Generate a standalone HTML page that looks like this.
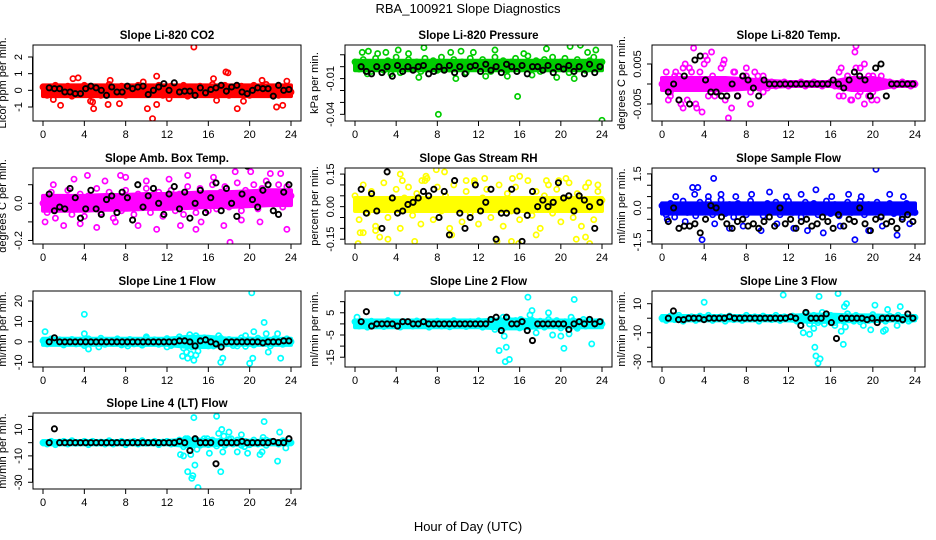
<!DOCTYPE html>
<html><head><meta charset="utf-8"><style>
html,body{margin:0;padding:0;background:#fff}
svg{display:block;font-family:"Liberation Sans",Arial,sans-serif}
</style></head><body>
<svg id="chart" width="936" height="540" viewBox="0 0 936 540" xmlns="http://www.w3.org/2000/svg">
<rect x="0" y="0" width="936" height="540" fill="#fff"/>
<text x="468" y="13" text-anchor="middle" font-size="13">RBA_100921  Slope Diagnostics</text>
<text x="468" y="531" text-anchor="middle" font-size="13">Hour of Day (UTC)</text>
</svg>
<script>
const xTicks = [0,4,8,12,16,20,24];

// dense-band envelopes (every 2 hours, 0..24)
const co2BandLo = [-0.35,-0.35,-0.35,-0.35,-0.35,-0.35,-0.35,-0.35,-0.35,-0.35,-0.35,-0.35,-0.35];
const co2BandHi = [0.3,0.3,0.3,0.3,0.3,0.3,0.3,0.3,0.3,0.3,0.3,0.3,0.3];
const presBandLo = [-0.003,-0.003,-0.003,-0.003,-0.003,-0.003,-0.003,-0.003,-0.003,-0.003,-0.003,-0.003,-0.003];
const presBandHi = [0.005,0.005,0.005,0.005,0.005,0.005,0.005,0.005,0.005,0.005,0.005,0.005,0.005];
const tempBandLo = [-0.0015,-0.0015,-0.0015,-0.0015,-0.0012,-0.0008,-0.0005,-0.0005,-0.0005,-0.0015,-0.0015,-0.0005,-0.0005];
const tempBandHi = [0.0015,0.0015,0.0015,0.0015,0.0012,0.0008,0.0005,0.0005,0.0005,0.0015,0.0015,0.0005,0.0005];
const ambBandLo = [-0.04,-0.04,-0.04,-0.035,-0.035,-0.03,-0.03,-0.025,-0.02,-0.02,-0.015,-0.01,-0.01];
const ambBandHi = [0.04,0.04,0.04,0.045,0.045,0.05,0.05,0.055,0.06,0.06,0.065,0.07,0.07];
const rhBandLo = [-0.02,-0.02,-0.02,-0.02,-0.02,-0.02,-0.02,-0.02,-0.02,-0.02,-0.02,-0.02,-0.02];
const rhBandHi = [0.04,0.04,0.04,0.04,0.04,0.04,0.04,0.04,0.04,0.04,0.04,0.04,0.04];
const flowBandLo = [-0.25,-0.25,-0.25,-0.25,-0.25,-0.25,-0.25,-0.25,-0.25,-0.25,-0.25,-0.25,-0.25];
const flowBandHi = [0.2,0.2,0.2,0.2,0.2,0.2,0.2,0.2,0.2,0.2,0.2,0.2,0.2];
const l1BandLo = [-1.5,-1.5,-1.5,-1.5,-1.5,-1.5,-1.5,-2.5,-2.5,-1.5,-1.5,-1.5,-1.5];
const l1BandHi = [1.5,1.5,1.5,1.5,1.5,1.5,1.5,2.5,2.5,1.5,1.5,1.5,1.5];
const l2BandLo = [-1.5,-1.5,-1.5,-1.5,-1.5,-1.5,-1.5,-2,-2,-1.5,-1.5,-1.5,-1.5];
const l2BandHi = [1.5,1.5,1.5,1.5,1.5,1.5,1.5,2,2,1.5,1.5,1.5,1.5];
const l3BandLo = [-1.5,-1.5,-1.5,-1.5,-1.5,-1.5,-1.5,-2.5,-2.5,-2,-2,-1.5,-1.5];
const l3BandHi = [1.5,1.5,1.5,1.5,1.5,1.5,1.5,2.5,2.5,2,2,1.5,1.5];
const l4BandLo = [-1.3,-1.3,-1.3,-1.3,-1.3,-1.3,-1.3,-2.5,-2,-1.5,-1.5,-1.3,-1.3];
const l4BandHi = [1.3,1.3,1.3,1.3,1.3,1.3,1.3,2.5,2,1.5,1.5,1.3,1.3];

const co2Main = [0.2,-0.3,0.1,0.3,-0.2,0.0,0.25,-0.35,0.15,-0.1,0.3,-0.25,0.05,0.2,-0.3,0.1,0.35,-0.15,0.0,0.25,-0.3,0.15,-0.2,0.3,0.05,-0.25,0.2,-0.1,0.3,-0.3,0.1,0.25,-0.2,0.0,0.3,-0.35,0.15,-0.05,0.25,-0.25,0.1,0.35,-0.2,0.05,0.3,-0.3,0.2,-0.1,0.25,0.0,-0.3,0.3,0.1,-0.2,0.35,-0.15,0.2,-0.3,0.05,0.25,-0.1];
const co2Out = [[14.6,2.6],[10.6,-1.7],[10.1,-1.1],[4.9,-1.1],[1.7,-0.9],[6.3,-0.85],[18.8,-1.1],[22.6,-1],[23.2,-0.9],[17.7,1.1],[17.9,1.05],[11,0.85],[2.9,0.7],[3.4,0.75],[6.5,0.6],[16.5,0.7],[23.6,0.55],[7.4,-0.8],[4.6,-0.65],[4.8,-0.7],[11,-0.85],[19.4,-0.65],[16.8,-0.6],[9.7,0.5],[1.0,-0.55],[12.2,-0.5],[21.2,0.6]];
const co2Black = [0.15,0.1,0.1,-0.1,-0.1,-0.2,-0.2,0.1,0.25,0.15,0.0,-0.3,0.2,-0.1,-0.1,0.25,0.1,0.2,0.25,-0.25,0.0,0.2,0.4,0.0,0.45,-0.1,-0.05,-0.05,-0.3,0.15,-0.15,0.05,0.15,0.3,-0.05,0.2,0.3,-0.1,-0.2,0.0,0.15,0.1,0.1,-0.35,0.3,0.0,0.05];

const presMain = [0.004,-0.002,0.006,0.001,-0.004,0.007,0.002,-0.003,0.005,0.0,0.008,-0.005,0.003,0.006,-0.001,0.004,-0.004,0.007,0.001,0.005,-0.003,0.008,0.002,-0.002,0.006,0.0,0.004,-0.005,0.007,0.003,-0.001,0.006,0.002,-0.004,0.008,0.001,0.005,-0.003,0.004,0.007,-0.002,0.003,0.009,0.0,0.005,-0.004,0.006,0.002,0.008,-0.001,0.004,0.007,-0.005,0.003,0.006,0.001,-0.003,0.005,0.008,0.0,0.004];
const presOut = [[0.7,0.012],[1.3,0.013],[2.2,0.011],[3.0,0.012],[4.2,0.014],[5.2,0.011],[6.7,0.016],[8.1,-0.04],[9.3,0.012],[10.3,0.013],[11.5,0.012],[12.7,-0.008],[13.6,0.014],[15.8,-0.025],[16.4,0.011],[18.6,0.015],[19.6,-0.009],[20.9,0.017],[21.9,0.018],[22.6,0.012],[23.4,0.014],[24,-0.045],[3.5,-0.006],[6.2,-0.009],[9.8,-0.01],[1.2,-0.006],[17.2,-0.007],[14.8,-0.008],[21.3,-0.01]];
const presBlack = [0.0,-0.004,-0.006,0.0,-0.005,0.0,-0.008,0.001,-0.004,0.0,-0.003,0.0,0.001,-0.006,-0.004,0.0,-0.003,0.001,-0.005,0.0,-0.006,0.0,0.001,-0.004,0.002,-0.003,0.0,-0.005,0.002,0.0,-0.004,0.001,-0.006,0.0,0.0,-0.003,0.001,-0.005,0.0,-0.002,0.001,-0.004,0.0,-0.006,0.002,-0.005,0.0];

const tempMain = [0.0,0.003,-0.002,0.002,-0.004,0.004,-0.001,0.003,-0.005,0.001,0.005,-0.003,0.002,-0.002,0.004,-0.004,0.001,0.003,-0.003,0.0,0.002,-0.002,0.003,-0.001,0.002,-0.001,0.0005,-0.0005,0.0,0.0005,-0.0005,0.0,0.0,0.0005,-0.0005,0.0,0.0005,0.0,-0.0005,0.0,0.0005,-0.0005,0.003,-0.003,0.002,-0.004,0.004,-0.002,0.005,-0.003,0.002,-0.001,0.002,0.0,0.0005,-0.0005,0.0,0.0005,0.0,-0.0005,0.0];
const tempOut = [[1.3,0.003],[0.8,-0.003],[1.8,-0.005],[2.6,0.004],[3.0,0.009],[3.3,-0.006],[3.8,-0.007],[4.1,0.007],[4.3,0.006],[4.7,0.008],[5.3,-0.002],[5.8,0.005],[6.3,-0.0085],[6.6,-0.006],[5.9,0.006],[7.2,-0.003],[8.0,0.004],[8.4,-0.005],[9.1,0.002],[9.6,-0.002],[2.2,0.005],[1.6,0.002],[0.6,-0.004],[2.0,-0.006],[2.4,-0.004],[17.0,0.004],[17.5,0.001],[17.9,-0.004],[18.3,0.008],[18.4,0.0095],[18.8,0.004],[19.2,-0.005],[19.6,0.002],[20.0,-0.002],[20.6,0.001],[20.4,-0.004],[16.8,-0.003],[18.6,-0.003],[19.9,-0.004],[7.7,0.002],[6.9,0.003],[3.6,0.003],[5.0,-0.003]];
const tempBlack = [-0.002,0.0,-0.004,0.002,-0.005,0.006,0.007,0.001,-0.002,-0.002,-0.003,-0.003,0.0,-0.003,0.002,0.001,-0.001,-0.003,0.001,0,0,0,0,0,0,0,0,0,0,0,0,0.001,0,-0.001,0.001,0.003,0.002,0.001,-0.003,0.004,0.005,-0.003,0,0,0,0,0];

const ambMain = [0.0,-0.05,0.06,-0.08,0.03,-0.03,0.07,-0.06,0.02,0.05,-0.07,0.04,-0.02,0.08,-0.05,0.01,0.06,-0.08,0.03,-0.04,0.07,0.0,-0.06,0.05,-0.02,0.08,-0.05,0.03,0.06,-0.07,0.02,0.07,-0.04,0.05,-0.06,0.09,0.0,-0.05,0.08,0.02,-0.04,0.1,-0.03,0.06,0.09,-0.02,0.05,0.11,-0.04,0.07,0.02,0.1,-0.03,0.08,0.12,0.0,0.06,0.1,-0.02,0.09,0.04];
const ambOut = [[0.2,-0.1],[1.0,0.1],[2.0,-0.12],[3.0,0.13],[3.6,-0.11],[4.3,0.15],[5.2,-0.13],[6.0,0.12],[7.0,-0.1],[8.0,0.14],[9.2,-0.12],[10.0,0.12],[11.0,-0.14],[12.2,0.13],[13.3,-0.12],[14.0,0.15],[15.3,-0.1],[16.5,0.14],[17.5,-0.12],[18.1,-0.21],[18.6,0.17],[19.2,-0.09],[20.1,0.17],[21.0,-0.1],[22.0,0.16],[23.0,0.16],[23.6,-0.14],[14.8,-0.14],[7.5,0.15]];
const ambBlack = [0.05,-0.04,-0.02,-0.03,0.08,0.03,-0.08,-0.03,0.07,-0.03,-0.06,0.02,0.04,-0.05,0.06,0.03,-0.09,0.1,-0.02,0.04,0.08,0.0,-0.06,0.05,0.09,-0.03,0.06,-0.08,0.0,0.07,-0.05,0.03,0.11,-0.04,0.08,0.0,-0.07,0.05,0.2,0.02,-0.02,0.07,0.1,-0.04,-0.06,0.06,0.1];

const rhMain = [0.05,-0.06,0.1,-0.03,0.07,-0.09,0.03,0.11,-0.05,0.0,0.08,-0.1,0.04,0.09,-0.04,0.06,-0.08,0.12,0.01,-0.06,0.09,-0.02,0.05,-0.1,0.1,0.02,-0.07,0.07,-0.03,0.11,-0.08,0.04,0.08,-0.05,0.01,0.1,-0.09,0.06,-0.02,0.09,-0.06,0.03,0.12,-0.04,0.07,-0.1,0.05,0.1,-0.03,0.08,-0.07,0.02,0.11,-0.05,0.06,-0.09,0.09,0.0,-0.06,0.07,0.03];
const rhOut = [[0.3,-0.17],[0.5,-0.12],[0.8,-0.12],[2.4,-0.14],[3.2,-0.15],[4.4,0.15],[4.6,0.12],[5.8,-0.16],[6.5,0.12],[7.0,0.13],[7.9,0.17],[8.7,0.16],[9.4,-0.13],[10.8,0.12],[11.6,0.12],[12.6,0.13],[13.8,-0.16],[15.2,-0.16],[15.3,0.13],[15.9,-0.17],[16.0,0.14],[17.6,-0.13],[18.6,0.12],[19.8,0.12],[20.5,0.13],[21.5,-0.15],[22.4,-0.14],[22.7,0.11],[22.8,-0.17],[23.6,0.1],[6.9,0.14],[2.0,-0.11]];
const rhBlack = [0.08,-0.03,0.06,-0.02,-0.1,0.16,0.04,-0.03,-0.02,0.01,0.02,0.04,0.07,0.05,0.08,-0.05,0.07,-0.13,0.12,-0.03,-0.1,-0.05,0.1,-0.02,0.02,0.08,-0.15,-0.03,-0.03,0.08,-0.02,-0.16,-0.04,0.07,0.0,0.03,0.0,0.02,0.11,0.04,0.05,-0.02,0.05,0.03,0.0,-0.1,0.02];

const flowMain = [0.1,-0.3,0.2,-0.4,0.0,0.3,-0.2,0.1,-0.35,0.25,-0.1,0.3,-0.3,0.05,0.35,-0.25,0.15,-0.4,0.2,0.0,-0.3,0.3,-0.15,0.1,-0.35,0.2,-0.05,0.25,-0.3,0.1,0.3,-0.2,0.0,-0.4,0.25,-0.1,0.2,-0.3,0.05,0.3,-0.25,0.15,-0.35,0.1,0.25,-0.2,0.0,0.3,-0.3,0.15,-0.1,0.25,-0.35,0.05,0.2,-0.25,0.1,-0.4,0.2,0.0,-0.2];
const flowOut = [[0.5,-0.5],[1.3,0.5],[2.2,-0.6],[3.1,0.6],[3.8,-1.4],[4.4,0.5],[5.0,-0.7],[5.6,0.6],[6.4,-0.9],[7.0,0.5],[7.7,-0.8],[8.5,0.6],[9.4,-1.0],[10.2,0.7],[10.9,-0.7],[11.8,0.5],[12.5,-0.9],[13.2,0.6],[13.8,-1.0],[14.6,0.8],[15.3,-1.1],[16.1,0.5],[16.9,-0.8],[17.7,0.6],[18.3,-1.4],[18.9,0.5],[19.6,-1.0],[20.3,1.7],[20.9,-0.8],[21.6,0.6],[22.3,-1.2],[22.9,0.5],[23.5,-0.7],[4.9,1.3],[2.9,0.9],[3.4,0.9]];
const flowBlack = [-0.6,0.0,-0.9,-0.8,-0.8,-0.7,-1.1,-0.5,0.1,0.0,-0.4,-0.7,-0.9,-0.6,-0.5,-0.8,-0.7,-0.9,-0.6,-0.4,-0.8,0.0,-0.7,-0.5,-0.9,-0.6,-0.5,-0.8,-0.7,-0.4,-0.6,-0.9,-0.3,-0.8,-0.5,-0.6,0.0,-0.7,-1.0,-0.5,-0.4,-0.7,-0.6,-0.9,-0.5,-0.3,-0.6];

const l1Main = [0.5,-1,1.5,-0.5,1,-1.5,0.5,1.2,-1,0.8,-1.8,1.5,-0.5,0,1.8,-1.2,0.6,-0.8,1.5,-1.5,0.3,1.2,-1,0.7,-1.6,1.8,-0.4,1,-1.2,0.5,1.6,-1.8,0.2,2.5,-3,1.5,-2.5,3,-1,2,-2,1,-1.5,1.8,-0.6,1.2,-1.8,0.4,2,-2.2,1,-1.5,1.8,-0.5,1.2,-2,1.5,0.5,-1.2,1.5,0];
const l1Out = [[0.2,5],[4.0,13.5],[4.0,4],[4.4,-3.5],[10.0,2.5],[12.0,-2.5],[13.5,-7],[13.9,-5],[14.0,-8],[14.3,-6],[14.6,-9],[14.8,-6.5],[15.0,-4.5],[14.2,3.5],[16.5,-2],[17.0,3],[17.2,-10],[17.4,-8],[18.8,-2],[20.0,-10.5],[20.3,-8],[20.4,5],[20.2,24],[21.4,9.5],[21.6,4],[22.7,4],[23.0,-8],[5.4,-2.5],[8.2,-2],[19.6,3],[21.8,-5]];
const l1Black = [0,2,0,0,0,0,0,0,0,0,0,0,0,0,0,0,0,0,0,0,0,0,0,0,0,0.5,0.5,0,-2,0.5,1,0,-1,-2.5,0,0,0,0,0,0,0,-0.5,0,0,0,0.5,0.5];

const l2Main = [1,-1,0.5,-1.5,1.2,-0.5,0.8,-1.2,1.5,-0.8,0.3,-1.4,1,0,-1,1.3,-0.6,0.9,-1.5,0.5,1.2,-1,0.6,-1.3,1.5,-0.4,0.8,-1.2,1,-0.8,1.4,-1.5,0.5,2,-2.5,1.5,-2,2.5,-1,1.5,-1.8,0.8,-1.2,1.6,-0.5,1.2,-1.5,2,-1,1.5,-1.8,1,-0.8,1.5,-1.3,0.6,-1,1.2,-0.5,1,0];
const l2Out = [[0.2,3],[4.1,14],[13.6,-1],[14.0,-12],[14.5,-5.5],[14.6,-17],[14.7,-10.5],[15.0,-16],[14.4,3],[16.8,12],[17.0,4],[17.2,6],[17.6,-4],[18.8,5],[19.2,-5],[20.0,-5.5],[20.3,-11],[20.8,-4.5],[21.3,11],[21.0,3],[21.6,-2],[23.0,-9],[16.1,2],[22.2,2]];
const l2Black = [1,5.5,-1,0,0,0,0,-1,1,1,0,0,1,0,0,0,0,0,0,0,0,0,0,0,0,2,3,-3,3,0,0,1,-3,-7.5,0,0,0,0,0,0,-2.5,0,1,0,2,0,1];

const l3Main = [0,-1.5,1.5,-1,2,-2,0.5,1,-1.5,1.5,-0.5,2,-1.5,0.5,1,-2,1.5,-1,0.5,-1.5,2,-0.5,1,-2,1.5,0,-1,2,-1.5,1,-0.5,1.5,-2,0.5,3,-4,2,-3,4,-1,2,-3,1,-2,3,-1,2,-2.5,1,-1.5,2.5,-1,0,-2,1.5,-0.5,2,-1.5,1,-1,0.5];
const l3Out = [[4.0,11],[11.5,16],[13.4,-10],[14,-11],[14.4,-7],[14.5,-20],[14.6,-26],[14.8,-31],[15.0,-28],[14.9,15],[15.4,-4],[16.4,-5],[16.7,17],[17,-9],[17.2,-18],[17.3,8],[17.5,10],[17.4,-6],[18.2,-2],[19.1,-5],[19.8,-8],[20.2,9],[20.4,-3],[21.2,-8],[21.0,-9],[21.4,6],[22.3,-5],[22.6,8],[23.4,-2],[17.6,3]];
const l3Black = [0,5,-1,-1,0,0,0,-1,0,0,0,0,1,0,0,0,0,0,0,0,0,0,0,0,1,0,-5,4,0,0,0,3,-3,-14,0,0,0,0,0,-1,0,-3,0,0,0,0,-1,3,0];

const l4Main = [0,-1,1,-1.5,0.5,1,-1,1.5,-0.5,0,1,-1.5,1,-0.5,0.5,-1,1.5,-1,0,1,-1.5,0.5,1,-1,1.5,-0.5,0,1,-1.5,0.5,1,-1,0.5,2,-3,3,-2,2.5,-2,3,-1.5,2,-2.5,1.5,-2,2.5,-1,2,-2,1,-1.5,2,-1,1.5,-2,1,0.5,-1,1.5,0,0];
const l4Out = [[13.3,-9],[13.6,-10],[13.8,3],[14.0,-22],[14.3,-9],[14.4,-27],[14.5,-25],[14.6,19],[14.7,-17],[14.9,-5],[15.0,-34],[15.2,1],[16.1,-8],[16.3,1],[16.8,20],[17.0,7],[17.2,-22],[17.3,10],[17.5,5],[17.4,-7],[18.0,8],[18.2,3],[18.8,-7],[19.2,6],[19.5,-3],[19.8,-8],[21.0,-9],[21.2,-7],[21.3,4],[21.4,16],[21.6,2],[22.7,-14],[22.9,8],[23.5,-4],[20.3,0],[15.9,3]];
const l4Black = [0,10.5,0,0,0,0,0,0,0,0,0,0,0,0,0,0,0,0,0,0,0,0,0,0,0,1,0,-6,3,0,0,0,-16,0,0,0,0,1,0,0,0,0,0,1,0,0,3];

const panelTitles = ["Slope Li-820 CO2","Slope Li-820 Pressure","Slope Li-820 Temp.","Slope Amb. Box Temp.","Slope Gas Stream RH","Slope Sample Flow","Slope Line 1 Flow","Slope Line 2 Flow","Slope Line 3 Flow","Slope Line 4 (LT) Flow"];
const yLabels = ["Licor ppm per min.","kPa per min.","degrees C per min.","degrees C per min.","percent per min.","ml/min per min.","ml/min per min.","ml/min per min.","ml/min per min.","ml/min per min."];
const yTicks = [[-1,0,1,2],[0.01,0,-0.01,-0.02,-0.03,-0.04],[-0.005,0,0.005],[0.1,0,-0.1,-0.2],[-0.15,-0.1,-0.05,0,0.05,0.1,0.15],[-1.5,-1,-0.5,0,0.5,1,1.5],[-10,0,10,20],[10,5,0,-5,-10,-15],[10,0,-10,-20,-30],[20,10,0,-10,-20,-30]];
const yTickLabels = [["-1","0","1","2"],["","","-0.01","","","-0.04"],["-0.005","","0.005"],["","0.0","","-0.2"],["-0.15","","","0.00","","","0.15"],["-1.5","","","0.0","","","1.5"],["-10","0","10","20"],["","5","","-5","","-15"],["10","","-10","","-30"],["","10","","-10","","-30"]];
const yRanges = [[-1.84,2.72],[-0.0456,0.0182],[-0.00925,0.00975],[-0.219,0.19],[-0.172,0.178],[-1.59,1.76],[-12.3,24.9],[-19.4,14.8],[-33.6,18.75],[-35.1,22.5]];
const bandLows = [co2BandLo,presBandLo,tempBandLo,ambBandLo,rhBandLo,flowBandLo,l1BandLo,l2BandLo,l3BandLo,l4BandLo];
const bandHighs = [co2BandHi,presBandHi,tempBandHi,ambBandHi,rhBandHi,flowBandHi,l1BandHi,l2BandHi,l3BandHi,l4BandHi];
const mainSeries = [co2Main,presMain,tempMain,ambMain,rhMain,flowMain,l1Main,l2Main,l3Main,l4Main];
const outlierSeries = [co2Out,presOut,tempOut,ambOut,rhOut,flowOut,l1Out,l2Out,l3Out,l4Out];
const blackSeries = [co2Black,presBlack,tempBlack,ambBlack,rhBlack,flowBlack,l1Black,l2Black,l3Black,l4Black];
const colors = ["#ff0000","#00cc00","#ff00ff","#ff00ff","#ffff00","#0000ff","#00ffff","#00ffff","#00ffff","#00ffff"];

const NS = "http://www.w3.org/2000/svg";
const svg = document.getElementById("chart");
const colL = [33, 345, 652], colR = [301, 612, 925];
const rowT = [45, 168, 291, 413], boxH = 76;
function mk(tag, attrs, parent){ const e=document.createElementNS(NS,tag); for(const k in attrs) e.setAttribute(k,attrs[k]); (parent||svg).appendChild(e); return e; }

panelTitles.forEach((title, p) => {
  const c = p % 3, r = Math.floor(p / 3);
  const L = colL[c], R = colR[c], T = rowT[r], B = T + boxH;
  const xs = h => L + 10 + (h / 24) * (R - L - 20);
  const [ymin, ymax] = yRanges[p];
  const ys = v => B - (v - ymin) / (ymax - ymin) * boxH;
  const g = mk("g", {});
  
  
  const t = mk("text", {x:(L+R)/2, y:T-6, "text-anchor":"middle", "font-size":"11.5", "font-weight":"bold"}, g);
  t.textContent = title;
  
  
  const yl = mk("text", {transform:`translate(${L-27},${T+boxH/2}) rotate(-90)`, "text-anchor":"middle", "font-size":"11"}, g);
  yl.textContent = yLabels[p];
  
  
  xTicks.forEach(h => {
    const x = xs(h);
    mk("line", {x1:x, x2:x, y1:B, y2:B+5, stroke:"#000"}, g);
    const tl = mk("text", {x:x, y:B+17, "text-anchor":"middle", "font-size":"11"}, g);
    tl.textContent = String(h);
    
    
  });
  mk("line", {x1:xs(0), x2:xs(24), y1:B, y2:B, stroke:"#000"}, g);
  yTicks[p].forEach((v, i) => {
    const y = ys(v);
    mk("line", {x1:L-5, x2:L, y1:y, y2:y, stroke:"#000"}, g);
    const lab = yTickLabels[p][i];
    if (lab) {
      const yt = mk("text", {transform:`translate(${L-11},${y}) rotate(-90)`, "text-anchor":"middle", "font-size":"11"}, g);
      yt.textContent = lab;
      
      
    }
  });
  const tv = yTicks[p].map(ys);
  mk("line", {x1:L-0.5, x2:L-0.5, y1:Math.min(...tv), y2:Math.max(...tv), stroke:"#000"}, g);
  const cid = "clip" + p;
  const cp = mk("clipPath", {id:cid}, g);
  mk("rect", {x:L, y:T, width:R-L, height:boxH}, cp);
  const pts = mk("g", {"clip-path":`url(#${cid})`, fill:"none", "stroke-width":"1.7"}, g);
  const col = colors[p];
  const lo = bandLows[p], hi = bandHighs[p];
  const up = hi.map((v, i) => `${xs(i * 24 / (hi.length - 1))},${ys(v)}`);
  const dn = lo.map((v, i) => `${xs(i * 24 / (lo.length - 1))},${ys(v)}`).reverse();
  const band = mk("polygon", {points: up.concat(dn).join(" "), fill:col, stroke:col, "stroke-width":"4", "stroke-linejoin":"round"}, pts);
  
  
  const main = mainSeries[p];
  main.forEach((v, i) => {
    const h = i * 24 / (main.length - 1);
    const ci = mk("circle", {cx:xs(h), cy:ys(v), r:2.6, stroke:col}, pts);
    
    
  });
  outlierSeries[p].forEach(([h, v]) => {
    const ci = mk("circle", {cx:xs(h), cy:ys(v), r:2.6, stroke:col}, pts);
    
    
  });
  const blk = blackSeries[p];
  blk.forEach((v, i) => {
    const h = 0.6 + i * 23.2 / (blk.length - 1);
    const ci = mk("circle", {cx:xs(h), cy:ys(v), r:2.6, stroke:"#000", "stroke-width":"1.9"}, pts);
    
    
  });
  const box = mk("rect", {x:L, y:T, width:R-L, height:boxH, fill:"none", stroke:"#000"}, g);
  
  
});
</script>
</body></html>
